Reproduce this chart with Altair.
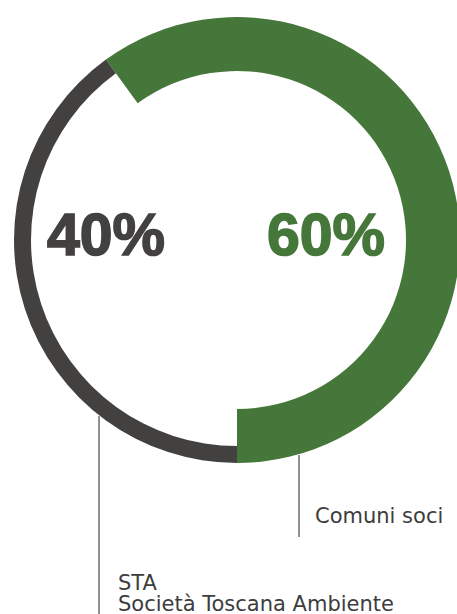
import math
import altair as alt
import pandas as pd

# data
categories = ["Comuni soci", "STA"]
values = [60, 40]
order = [1, 2]
labels = ["Comuni soci", "STA\nSocietà Toscana Ambiente"]

df = pd.DataFrame({"cat": categories, "value": values, "order": order, "label": labels})

GREEN = "#46773a"
DARK = "#434140"
TEXT = "#3d3d3d"
LINE = "#6e6e6e"

CX, CY = 237, 240

theta_scale = alt.Scale(domain=[0, sum(values)], range=[-0.2 * math.pi, 1.8 * math.pi])

base = (
    alt.Chart(df)
    .transform_window(end="sum(value)", sort=[alt.SortField("order")], frame=[None, 0])
    .transform_calculate(
        start="datum.end - datum.value",
        pct="datum.value + '%'",
        line1="split(datum.label, '\\n')[0]",
        line2="length(split(datum.label, '\\n')) > 1 ? split(datum.label, '\\n')[1] : ''",
    )
)

def arc(cat, color, r_out, r_in):
    return (
        base.transform_filter(alt.datum.cat == cat)
        .mark_arc(radius=r_out, radius2=r_in, color=color, strokeWidth=0)
        .encode(
            theta=alt.Theta("start:Q", scale=theta_scale),
            theta2="end:Q",
            x=alt.value(CX),
            y=alt.value(CY),
        )
    )

green_arc = arc("Comuni soci", GREEN, 223, 169)
grey_arc = arc("STA", DARK, 223, 206)

def pct_text(cat, color, x):
    return (
        base.transform_filter(alt.datum.cat == cat)
        .mark_text(font="Liberation Sans", fontWeight="bold", fontSize=59, color=color,
                   stroke=color, strokeWidth=1.6, align="center", baseline="alphabetic")
        .encode(text="pct:N", x=alt.value(x), y=alt.value(255))
    )

t60 = pct_text("Comuni soci", GREEN, 326)
t40 = pct_text("STA", DARK, 106)

def leader(cat, x, y1, y2):
    return (
        base.transform_filter(alt.datum.cat == cat)
        .mark_rule(color=LINE, strokeWidth=1.5)
        .encode(x=alt.value(x), y=alt.value(y1), y2=alt.value(y2))
    )

rule_g = leader("Comuni soci", 299, 455, 537)
rule_s = leader("STA", 99, 416, 614)

def label(cat, field, x, y):
    return (
        base.transform_filter(alt.datum.cat == cat)
        .mark_text(font="DejaVu Sans", fontSize=21, color=TEXT, align="left", baseline="alphabetic")
        .encode(text=f"{field}:N", x=alt.value(x), y=alt.value(y))
    )

lab_g = label("Comuni soci", "line1", 315, 523)
lab_s1 = label("STA", "line1", 118, 590)
lab_s2 = label("STA", "line2", 118, 611)

chart = (
    alt.layer(green_arc, grey_arc, t60, t40, rule_g, rule_s, lab_g, lab_s1, lab_s2)
    .properties(width=457, height=614, autosize="none", padding=0, background="white")
    .configure_view(strokeWidth=0)
)

chart.save("out.html", embed_options={"renderer": "svg", "actions": False})
